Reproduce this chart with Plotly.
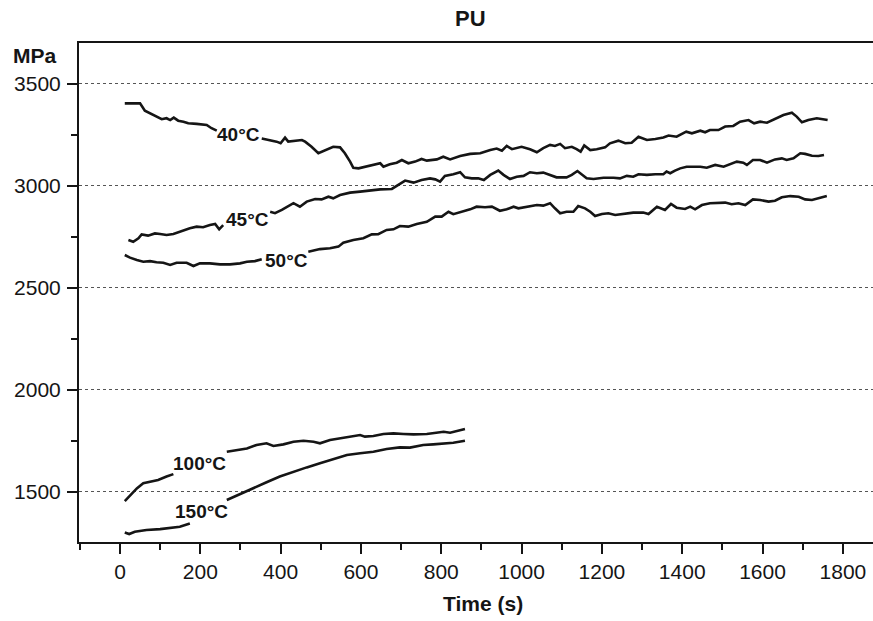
import plotly.graph_objects as go

# ---- data (time in s, modulus in MPa) ----
t40 = [12, 50, 62, 75, 95, 104, 116, 125, 134, 145, 158, 170, 191, 216, 228, 241, None,
       353, 374, 390, 400, 411, 419, 436, 453, 461, 477, 494, 515, 531, 548, 560, 573, 581, 594, 614,
       623, 648, 656, 672, 689, 702, 718, 735, 751, 764, 789, 805, 822, 847, 872, 897, 922, 938, 951,
       963, 976, 1000, 1021, 1038, 1054, 1071, 1083, 1096, 1108, 1125, 1137, 1147, 1156, 1171, 1187,
       1208, 1220, 1241, 1258, 1274, 1291, 1312, 1333, 1353, 1366, 1386, 1410, 1424, 1445, 1457, 1469,
       1490, 1507, 1527, 1544, 1565, 1579, 1594, 1611, 1631, 1652, 1673, 1685, 1698, 1714, 1735, 1750, 1762]
v40 = [3405, 3405, 3369, 3356, 3335, 3327, 3332, 3323, 3335, 3320, 3315, 3307, 3304, 3299, 3283, 3271, None,
       3233, 3225, 3217, 3209, 3237, 3217, 3222, 3225, 3217, 3192, 3160, 3176, 3192, 3189, 3160, 3119, 3089, 3086, 3094,
       3098, 3111, 3094, 3106, 3114, 3127, 3111, 3119, 3132, 3124, 3130, 3143, 3130, 3147, 3157, 3160, 3176, 3183, 3173,
       3196, 3180, 3192, 3180, 3165, 3185, 3201, 3196, 3206, 3185, 3192, 3180, 3168, 3198, 3176, 3180,
       3189, 3209, 3222, 3209, 3212, 3241, 3225, 3230, 3237, 3247, 3241, 3266, 3258, 3271, 3263, 3274,
       3274, 3291, 3294, 3315, 3323, 3307, 3315, 3310, 3327, 3348, 3359, 3340, 3312, 3323, 3332, 3328, 3323]

t45 = [21, 33, 46, 54, 70, 87, 100, 116, 133, 153, 174, 191, 207, 224, 237, 247, 257, None,
       374, 386, 403, 419, 432, 448, 465, 486, 502, 519, 531, 548, 573, 598, 623, 648,
       677, 693, 710, 731, 751, 772, 785, 797, 809, 830, 847, 859, 876, 892, 906, 922, 942, 955, 971,
       988, 1005, 1021, 1038, 1054, 1071, 1087, 1112, 1125, 1139, 1150, 1162, 1179, 1204, 1229, 1245,
       1262, 1278, 1291, 1312, 1333, 1353, 1361, 1370, 1382, 1395, 1411, 1428, 1445, 1461, 1482, 1503,
       1519, 1536, 1552, 1561, 1576, 1594, 1611, 1631, 1648, 1660, 1677, 1694, 1706, 1723, 1739, 1753]
v45 = [2735, 2726, 2743, 2762, 2756, 2767, 2764, 2759, 2764, 2779, 2792, 2800, 2797, 2808, 2813, 2787, 2808, None,
       2873, 2866, 2882, 2898, 2915, 2898, 2923, 2936, 2934, 2947, 2939, 2955, 2967, 2972, 2978, 2983,
       2985, 3004, 3026, 3016, 3029, 3037, 3032, 3021, 3049, 3057, 3067, 3042, 3037, 3037, 3029, 3054, 3075, 3054, 3034,
       3045, 3049, 3067, 3062, 3065, 3054, 3042, 3042, 3054, 3073, 3054, 3037, 3034, 3040, 3040, 3037,
       3049, 3045, 3057, 3054, 3057, 3057, 3070, 3062, 3075, 3086, 3094, 3094, 3094, 3089, 3103, 3094,
       3106, 3119, 3114, 3103, 3127, 3127, 3114, 3130, 3135, 3127, 3135, 3160, 3157, 3148, 3147, 3152]

t50 = [12, 25, 42, 58, 75, 91, 108, 125, 141, 166, 183, 199, 224, 249, 274, 299, 316, 336, 353, None,
       469, 498, 523, 544, 556, 581, 606, 627, 643, 664, 681, 697, 718, 739, 764, 785, 801, 818, 830,
       851, 872, 888, 909, 926, 946, 963, 980, 992, 1013, 1038, 1054, 1071, 1083, 1096, 1112, 1129,
       1141, 1158, 1171, 1183, 1200, 1216, 1233, 1254, 1278, 1303, 1316, 1337, 1357, 1372, 1386, 1407,
       1420, 1432, 1449, 1469, 1490, 1507, 1523, 1540, 1557, 1576, 1594, 1615, 1631, 1648, 1669, 1690,
       1706, 1723, 1739, 1760]
v50 = [2661, 2648, 2636, 2628, 2631, 2625, 2623, 2612, 2623, 2623, 2607, 2620, 2620, 2615, 2615, 2620, 2628, 2631, 2640, None,
       2677, 2690, 2694, 2702, 2721, 2735, 2743, 2762, 2763, 2784, 2787, 2803, 2800, 2813, 2824, 2849, 2849, 2873, 2861,
       2873, 2885, 2898, 2895, 2898, 2878, 2885, 2898, 2890, 2898, 2906, 2903, 2915, 2890, 2866, 2873, 2873,
       2901, 2890, 2873, 2852, 2862, 2866, 2857, 2862, 2869, 2869, 2862, 2898, 2882, 2911, 2893, 2887,
       2898, 2885, 2906, 2915, 2918, 2918, 2910, 2915, 2906, 2934, 2931, 2923, 2927, 2944, 2950, 2947,
       2934, 2931, 2939, 2950]

t100 = [12, 25, 42, 58, 75, 95, 116, 133, None,
        266, 291, 316, 340, 365, 382, 407, 432, 457, 482, 498, 523, 548, 573, 598, 610, 631, 656, 681,
        706, 731, 764, 789, 806, 822, 839, 859]
v100 = [1454, 1483, 1516, 1541, 1549, 1557, 1574, 1586, None,
        1696, 1704, 1712, 1729, 1737, 1724, 1732, 1745, 1750, 1745, 1737, 1753, 1761, 1770, 1778, 1770, 1773, 1783, 1786,
        1783, 1781, 1783, 1789, 1794, 1789, 1799, 1807]

t150 = [12, 23, 37, 66, 100, 125, 149, 174, None,
        266, 291, 316, 340, 365, 398, 432, 465, 498, 531, 565, 598, 631, 664, 697, 722, 755, 780, 806, 830, 859]
v150 = [1300, 1292, 1303, 1312, 1316, 1323, 1328, 1344, None,
        1459, 1480, 1503, 1524, 1546, 1574, 1598, 1619, 1639, 1660, 1680, 1688, 1696, 1709, 1717, 1716, 1729, 1732, 1737, 1740, 1750]

series = [("40°C", t40, v40), ("45°C", t45, v45), ("50°C", t50, v50),
          ("100°C", t100, v100), ("150°C", t150, v150)]

label_names = ["40°C", "45°C", "50°C", "100°C", "150°C"]
label_t = [296, 318, 415, 197, 202]
label_v = [3250, 2833, 2636, 1638, 1402]

x_ticks = [0, 200, 400, 600, 800, 1000, 1200, 1400, 1600, 1800]
y_ticks = [1500, 2000, 2500, 3000, 3500]

FONT = "Arial, Liberation Sans, Helvetica, sans-serif"
INK = "#151515"

fig = go.Figure()
for name, tx, vy in series:
    fig.add_trace(go.Scatter(x=tx, y=vy, mode="lines", name=name,
                             line=dict(color=INK, width=2.6), connectgaps=False,
                             showlegend=False, hoverinfo="skip"))

for name, lt, lv in zip(label_names, label_t, label_v):
    fig.add_annotation(x=lt, y=lv, xref="x", yref="y", text="<b>%s</b>" % name,
                       xanchor="center", yanchor="middle",
                       showarrow=False, font=dict(family=FONT, size=19, color=INK))

L, R, T, B = 79, 0, 43, 79
WID, HEI = 873, 621
W = WID - L - R
H = HEI - T - B

def px(xp):
    return (xp - L) / W

def py(yp):
    return (HEI - B - yp) / H

for txt, xp, yp, sz in [("PU", 470, 18, 22), ("MPa", 35, 55, 21), ("Time (s)", 483, 603, 21)]:
    fig.add_annotation(x=px(xp), y=py(yp), xref="paper", yref="paper", text="<b>%s</b>" % txt,
                       xanchor="center", yanchor="middle", showarrow=False,
                       font=dict(family=FONT, size=sz, color=INK))

fig.update_layout(
    width=WID, height=HEI,
    margin=dict(l=L, r=R, t=T, b=B),
    paper_bgcolor="white", plot_bgcolor="white",
    font=dict(family=FONT, size=21, color=INK),
    showlegend=False,
)

fig.update_xaxes(
    range=[-102, 1875], tickvals=x_ticks, ticktext=[str(v) for v in x_ticks],
    showline=True, linecolor=INK, linewidth=2, mirror=True,
    ticks="outside", ticklen=10, tickwidth=2, tickcolor=INK,
    minor=dict(ticks="outside", ticklen=6, tickwidth=1.5, tickcolor=INK, dtick=100, tick0=0),
    showgrid=False, zeroline=False, tickfont=dict(size=21, family=FONT, color=INK),
    ticklabelstandoff=0,
)
fig.update_yaxes(
    range=[1253, 3701], tickvals=y_ticks, ticktext=[str(v) for v in y_ticks],
    showline=True, linecolor=INK, linewidth=2, mirror=False,
    ticks="outside", ticklen=10, tickwidth=2, tickcolor=INK,
    minor=dict(ticks="outside", ticklen=6, tickwidth=1.5, tickcolor=INK, dtick=250, tick0=0, showgrid=False),
    showgrid=True, gridcolor="#555555", gridwidth=1, griddash="dot",
    zeroline=False, tickfont=dict(size=21, family=FONT, color=INK),
    ticklabelstandoff=2,
)

fig.write_html("out.html")
